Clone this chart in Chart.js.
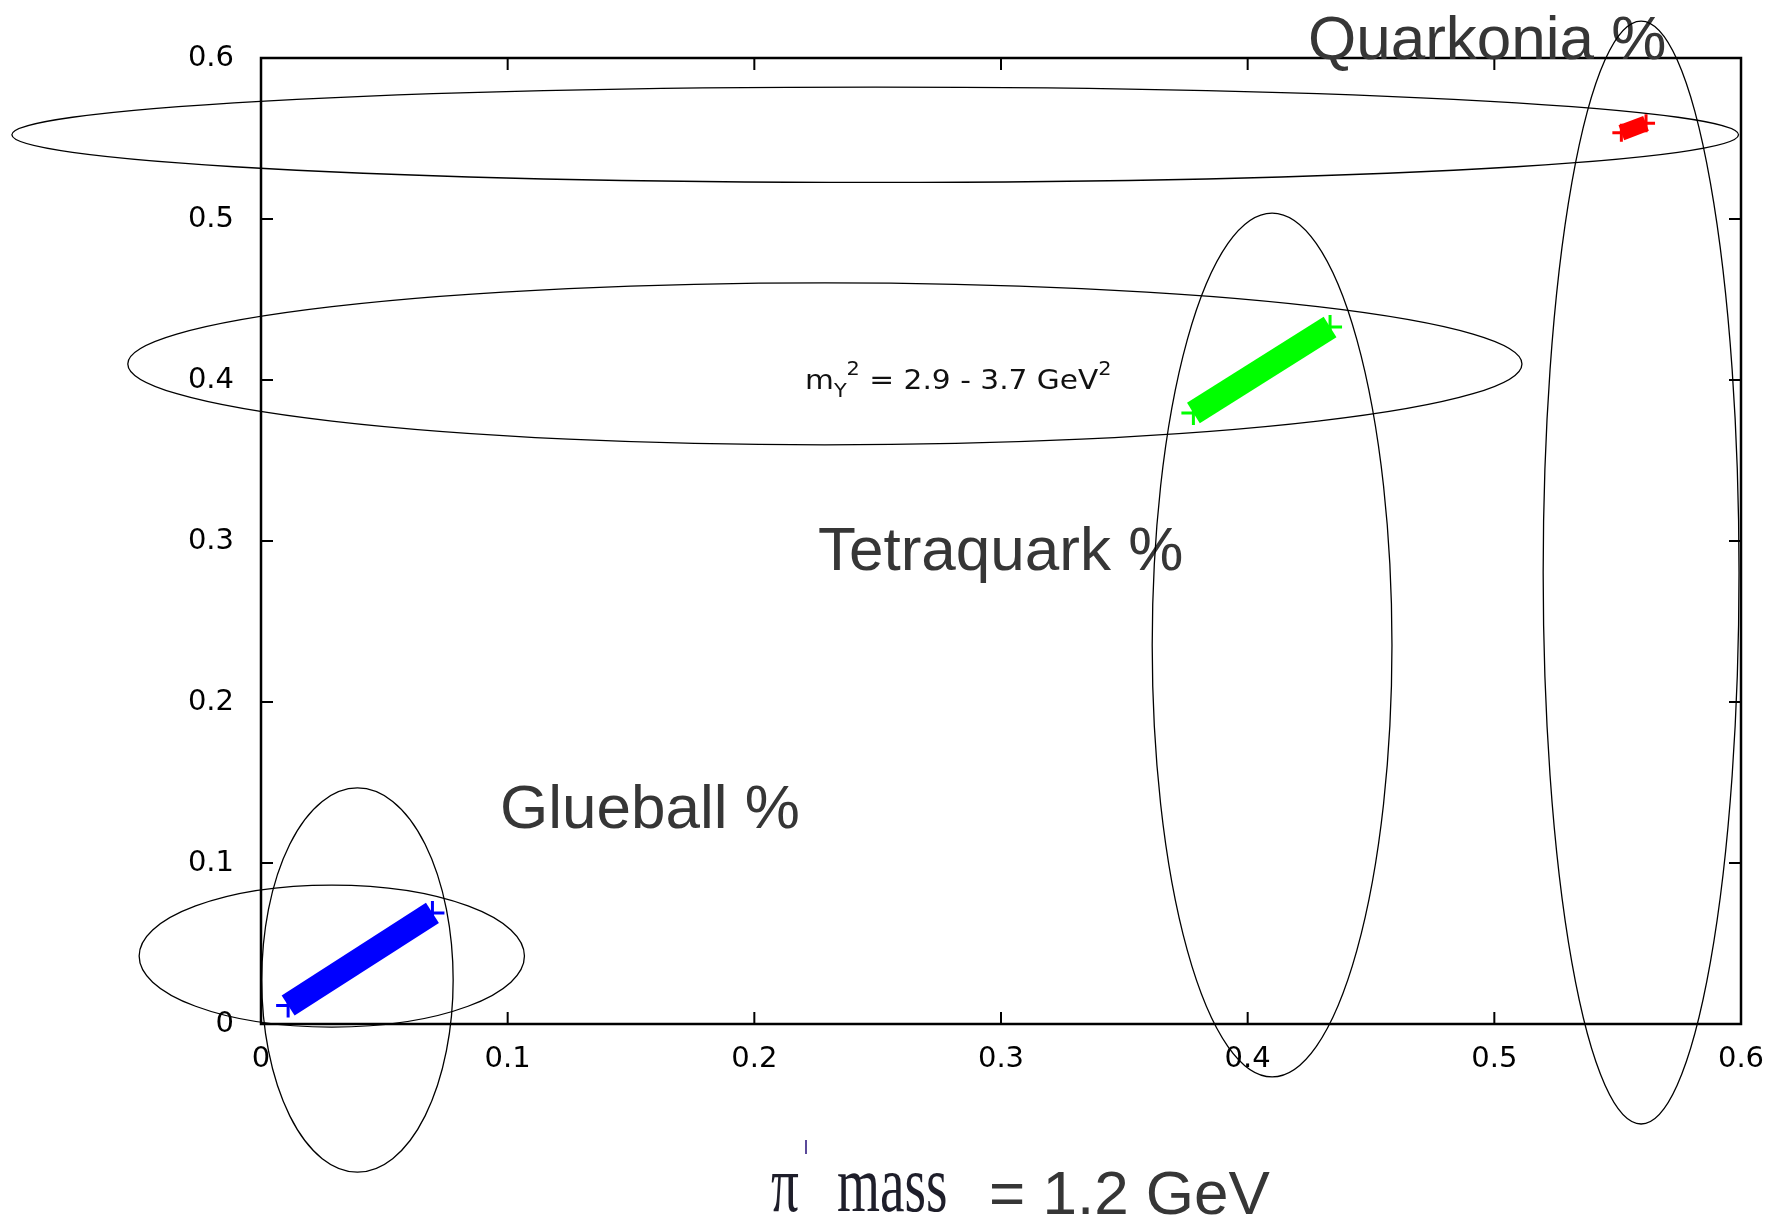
<!DOCTYPE html>
<html>
<head>
<meta charset="utf-8">
<script src="https://cdn.jsdelivr.net/npm/chart.js@4.4.1/dist/chart.umd.min.js"></script>
<style>
  html, body { margin: 0; padding: 0; background: #fff; }
  #wrap { width: 1776px; height: 1223px; }
</style>
</head>
<body>
<div id="wrap"><canvas id="scatter"></canvas></div>
<script>
const tickValues = [0, 0.1, 0.2, 0.3, 0.4, 0.5, 0.6];
const tickLabels = ["0", "0.1", "0.2", "0.3", "0.4", "0.5", "0.6"];

// the three bands (end points)
const glueballX = [0.011, 0.0695];
const glueballY = [0.0115, 0.069];
const tetraquarkX = [0.378, 0.4334];
const tetraquarkY = [0.3795, 0.4329];
const quarkoniaX = [0.5515, 0.5615];
const quarkoniaY = [0.5536, 0.5594];

// hand drawn ellipses, in data units
const ellipseCx = [0.249, 0.2286, 0.4099, 0.5595, 0.0391, 0.0287];
const ellipseCy = [0.5523, 0.410, 0.2354, 0.2804, 0.0273, 0.0422];
const ellipseRx = [0.350, 0.2826, 0.0486, 0.0397, 0.0388, 0.0781];
const ellipseRy = [0.0296, 0.0503, 0.2683, 0.3425, 0.1193, 0.0441];

function pts(xs, ys) {
  return xs.map((v, i) => ({ x: v, y: ys[i] }));
}

function band(label, xs, ys, color, width, r) {
  return {
    label: label,
    data: pts(xs, ys),
    showLine: true,
    borderColor: color,
    backgroundColor: color,
    borderWidth: width,
    borderCapStyle: "butt",
    pointStyle: "cross",
    pointRadius: r,
    pointBorderColor: color,
    pointBorderWidth: 3,
  };
}

const overlay = {
  id: "overlay",
  afterDatasetsDraw(chart) {
    const { ctx, chartArea: a, scales: { x, y } } = chart;
    ctx.save();

    // frame + inward ticks on all four sides
    ctx.strokeStyle = "#000";
    ctx.lineWidth = 2.5;
    ctx.strokeRect(a.left, a.top, a.right - a.left, a.bottom - a.top);
    ctx.lineWidth = 2;
    tickValues.forEach(v => {
      const px = x.getPixelForValue(v);
      const py = y.getPixelForValue(v);
      ctx.beginPath();
      ctx.moveTo(px, a.bottom); ctx.lineTo(px, a.bottom - 12);
      ctx.moveTo(px, a.top); ctx.lineTo(px, a.top + 12);
      ctx.moveTo(a.left, py); ctx.lineTo(a.left + 12, py);
      ctx.moveTo(a.right, py); ctx.lineTo(a.right - 12, py);
      ctx.stroke();
    });

    // big labels
    ctx.fillStyle = "#363636";
    ctx.font = "62px 'Liberation Sans', Arial, sans-serif";
    ctx.textBaseline = "alphabetic";
    ctx.textAlign = "left";
    ctx.fillText("Quarkonia %", 1308, 59);
    ctx.fillText("Tetraquark %", 818, 570);
    ctx.fillText("Glueball %", 500, 828);
    ctx.fillText("= 1.2 GeV", 989, 1214);

    // pi' mass (condensed serif)
    ctx.save();
    ctx.fillStyle = "#1e1e2a";
    ctx.translate(771, 1211);
    ctx.scale(0.69, 1);
    ctx.font = "80px 'Liberation Serif', 'Times New Roman', serif";
    ctx.fillText("\u03c0", 0, 0);
    ctx.fillText("mass", (837 - 771) / 0.69, 0);
    ctx.restore();
    ctx.strokeStyle = "#5b4a9a";
    ctx.lineWidth = 2;
    ctx.beginPath();
    ctx.moveTo(806, 1140); ctx.lineTo(806, 1154);
    ctx.stroke();

    // m_Y^2 label
    ctx.save();
    ctx.fillStyle = "#111";
    ctx.translate(805, 389);
    ctx.scale(1.098, 1);
    const parts = [
      ["m", 0, 27], ["Y", 8, 19], ["2", -14, 19],
      [" = 2.9 - 3.7 GeV", 0, 27], ["2", -14, 19],
    ];
    let cx = 0;
    parts.forEach(p => {
      ctx.font = p[2] + "px 'DejaVu Sans', sans-serif";
      ctx.fillText(p[0], cx, p[1]);
      cx += ctx.measureText(p[0]).width;
    });
    ctx.restore();

    // ellipses
    ctx.strokeStyle = "#000";
    ctx.lineWidth = 1.3;
    for (let i = 0; i < ellipseCx.length; i++) {
      const ex = x.getPixelForValue(ellipseCx[i]);
      const ey = y.getPixelForValue(ellipseCy[i]);
      const rx = x.getPixelForValue(ellipseCx[i] + ellipseRx[i]) - ex;
      const ry = ey - y.getPixelForValue(ellipseCy[i] + ellipseRy[i]);
      ctx.beginPath();
      ctx.ellipse(ex, ey, rx, ry, 0, 0, 2 * Math.PI);
      ctx.stroke();
    }
    ctx.restore();
  },
};

function tickText(v) {
  const i = tickValues.findIndex(t => Math.abs(t - v) < 1e-6);
  return i < 0 ? "" : tickLabels[i];
}

const tickFont = { family: "'DejaVu Sans', sans-serif", size: 29 };

const ctx = document.getElementById("scatter").getContext("2d");
const chart = new Chart(ctx, {
  type: "scatter",
  data: {
    datasets: [
      band("Glueball", glueballX, glueballY, "#0000ff", 24, 12),
      band("Tetraquark", tetraquarkX, tetraquarkY, "#00ff00", 24, 12),
      band("Quarkonia", quarkoniaX, quarkoniaY, "#ff0000", 16, 9),
    ],
  },
  options: {
    responsive: true,
    maintainAspectRatio: false,
    animation: false,
    layout: { padding: { left: 0, right: 35, top: 58, bottom: 0 } },
    plugins: {
      legend: { display: false },
      tooltip: { enabled: false },
    },
    scales: {
      x: {
        type: "linear",
        min: 0,
        max: 0.6,
        afterBuildTicks: s => { s.ticks = tickValues.map(v => ({ value: v })); },
        afterFit: s => { s.height = 199; },
        grid: { display: false },
        border: { display: false },
        ticks: { autoSkip: false, maxRotation: 0, padding: 10, color: "#000", font: tickFont, callback: tickText },
      },
      y: {
        type: "linear",
        min: 0,
        max: 0.6,
        afterBuildTicks: s => { s.ticks = tickValues.map(v => ({ value: v })); },
        afterFit: s => { s.width = 261; },
        grid: { display: false },
        border: { display: false },
        ticks: { autoSkip: false, padding: 19, color: "#000", font: tickFont, callback: tickText },
      },
    },
  },
  plugins: [overlay],
});
</script>
</body>
</html>
